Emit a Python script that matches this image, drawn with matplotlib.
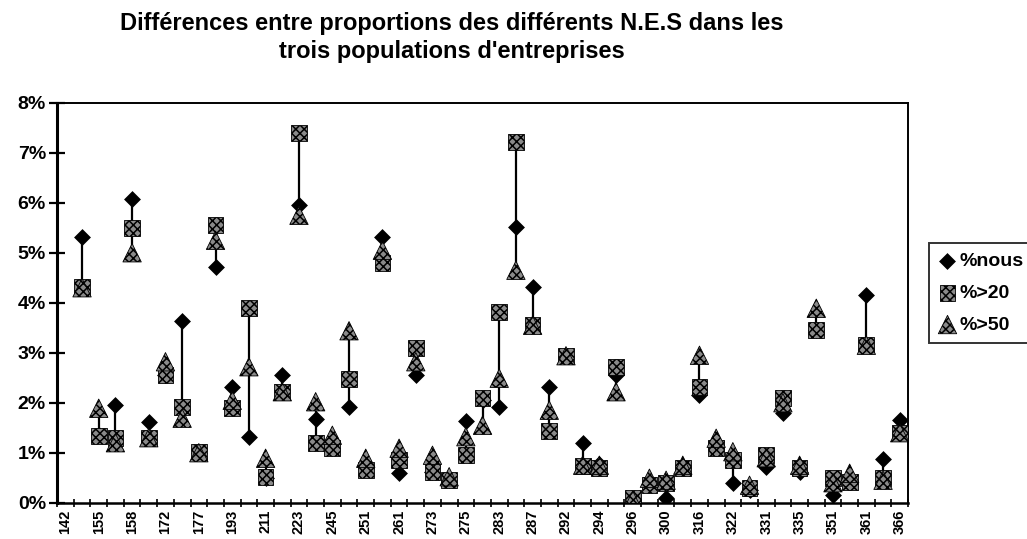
import matplotlib
matplotlib.use("Agg")
import matplotlib.pyplot as plt
import numpy as np

# N.E.S codes shown on the axis (every other category is labelled)
nes_labels = ["142", "155", "158", "172", "177", "193", "211", "223", "245",
              "251", "261", "273", "275", "283", "287", "292", "294", "296",
              "300", "316", "322", "331", "335", "351", "361", "366"]

# proportions in % (categories 1..50, category 0 has no value)
pct_nous = [5.31, 1.35, 1.95, 6.07, 1.62, 2.55, 3.63, 1.00, 4.72, 2.32,
            1.31, 0.50, 2.55, 5.95, 1.67, 1.10, 1.92, 0.70, 5.32, 0.60,
            2.55, 0.62, 0.45, 1.63, 2.05, 1.92, 5.52, 4.31, 2.32, 2.94,
            1.19, 0.78, 2.55, 0.00, 0.35, 0.10, 0.70, 2.15, 1.10, 0.40,
            0.25, 0.72, 1.80, 0.62, 3.45, 0.15, 0.42, 4.15, 0.87, 1.65]
pct_20 = [4.32, 1.33, 1.29, 5.49, 1.29, 2.55, 1.92, 1.02, 5.55, 1.89,
          3.89, 0.52, 2.22, 7.39, 1.19, 1.09, 2.47, 0.65, 4.80, 0.85,
          3.09, 0.62, 0.45, 0.95, 2.09, 3.82, 7.22, 3.55, 1.44, 2.94,
          0.73, 0.70, 2.72, 0.10, 0.35, 0.40, 0.70, 2.32, 1.09, 0.85,
          0.29, 0.95, 2.09, 0.70, 3.45, 0.49, 0.42, 3.15, 0.49, 1.39]
pct_50 = [4.30, 1.89, 1.20, 5.00, 1.30, 2.82, 1.69, 1.00, 5.25, 2.05,
          2.72, 0.89, 2.22, 5.75, 2.02, 1.35, 3.44, 0.89, 5.05, 1.09,
          2.82, 0.95, 0.52, 1.32, 1.55, 2.49, 4.65, 3.55, 1.85, 2.94,
          0.75, 0.75, 2.22, 0.05, 0.49, 0.45, 0.75, 2.95, 1.29, 1.02,
          0.35, 0.90, 2.00, 0.75, 3.89, 0.40, 0.59, 3.15, 0.45, 1.40]

plt.rcParams["font.family"] = ["Liberation Sans", "DejaVu Sans"]
plt.rcParams["hatch.color"] = "black"
plt.rcParams["hatch.linewidth"] = 1.1

fig = plt.figure(figsize=(10.27, 5.39), dpi=100)
ax = fig.add_axes([0.0555, 0.0673, 0.8287, 0.742])

n_cat = len(pct_nous) + 1
x = np.arange(1, n_cat)
series = np.array([pct_nous, pct_20, pct_50])

# high-low lines
ax.vlines(x, series.min(axis=0), series.max(axis=0), color="black", linewidth=1.6, zorder=2)

dotted = dict(facecolor="#8a8a8a", edgecolor="black", hatch="xxxx", linewidths=0.6)
ax.scatter(x, pct_nous, marker="D", s=74, c="black", linewidths=0, zorder=3, label="%nous")
ax.scatter(x, pct_20, marker="s", s=128, zorder=4, label="%>20", **dotted)
ax.scatter(x, pct_50, marker="^", s=175, zorder=5, label="%>50", **dotted)

ax.set_xlim(-0.5, n_cat - 0.5)
ax.set_ylim(0, 8)

# category boundaries as tick marks, labels centred in every other slot
ax.set_xticks(np.arange(-0.5, n_cat, 1.0))
ax.set_xticklabels([])
ax.tick_params(axis="x", which="major", direction="inout", length=6, width=1.2)
ax.set_xticks(np.arange(0, n_cat, 2), minor=True)
ax.set_xticklabels(nes_labels, minor=True, rotation=90, fontsize=10.5, fontweight="bold")
ax.tick_params(axis="x", which="minor", length=0, pad=5)

ax.set_yticks(np.arange(0, 9, 1))
ax.set_yticklabels([f"{v}%" for v in range(9)], fontsize=14, fontweight="bold")
ax.tick_params(axis="y", direction="inout", length=12, width=1.6, pad=2)

for side, lw in [("left", 2.2), ("bottom", 1.8), ("top", 1.4), ("right", 1.4)]:
    ax.spines[side].set_linewidth(lw)

fig.text(0.44, 0.978, "Différences entre proportions des différents N.E.S dans les\n"
         "trois populations d'entreprises", ha="center", va="top",
         fontsize=17, fontweight="bold", linespacing=1.3)

leg = fig.legend(loc="upper left", bbox_to_anchor=(0.9046, 0.549), borderaxespad=0,
                 frameon=True, fancybox=False, edgecolor="black", handletextpad=0.15,
                 handlelength=0.9, borderpad=0.5, labelspacing=0.72,
                 prop={"size": 14, "weight": "bold"})
leg.get_frame().set_linewidth(1.4)

fig.savefig("out.png", dpi=100)
